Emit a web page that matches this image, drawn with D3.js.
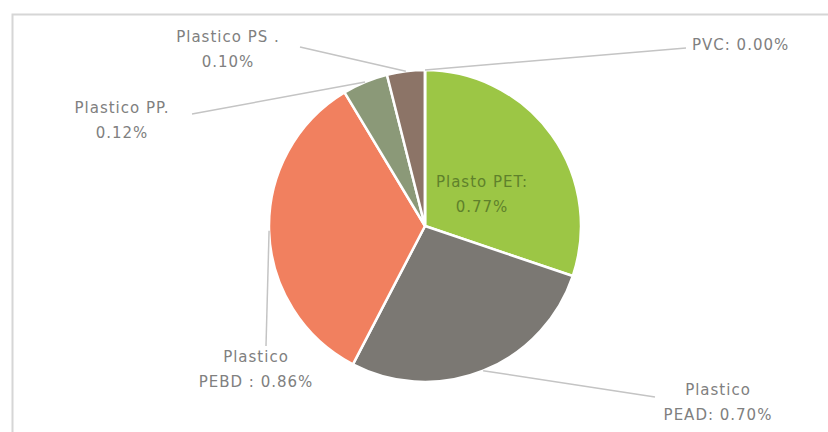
<!DOCTYPE html>
<html>
<head>
<meta charset="utf-8">
<script src="https://cdn.jsdelivr.net/npm/d3@7"></script>
<style>
  html, body { margin: 0; padding: 0; background: #fff; }
  svg { display: block; }
  text { font-family: "DejaVu Sans", sans-serif; }
</style>
</head>
<body>
<svg id="chart" width="828" height="432"></svg>
<script>
// Plastic fractions of the waste stream (%)
const categories = ["Plasto PET", "Plastico PEAD", "Plastico PEBD", "Plastico PP", "Plastico PS", "PVC"];
const values = [0.77, 0.70, 0.86, 0.12, 0.10, 0.00];
const labelLines = [
  ["Plasto PET:", "0.77%"],
  ["Plastico", "PEAD: 0.70%"],
  ["Plastico", "PEBD : 0.86%"],
  ["Plastico PP.", "0.12%"],
  ["Plastico PS .", "0.10%"],
  ["PVC: 0.00%"]
];
const colors = ["#9cc645", "#7b7873", "#f1805f", "#8b9978", "#8c7467", "#4a6fa5"];

// Layout
const W = 828, H = 432;
const cx = 425, cy = 226, R = 156;

// Label placement: text anchor point, leader end point
const labelLayout = [
  { x: 482, y: 187, anchor: "middle", inside: true },
  { x: 718, y: 395, anchor: "middle", lx: 655, ly: 397 },
  { x: 256, y: 362, anchor: "middle", lx: 266, ly: 346 },
  { x: 122, y: 113, anchor: "middle", lx: 192, ly: 114 },
  { x: 228, y: 42, anchor: "middle", lx: 300, ly: 47 },
  { x: 692, y: 50, anchor: "start", lx: 686, ly: 48 }
];

const svg = d3.select("#chart");

// Frame
svg.append("rect")
  .attr("x", 12.5).attr("y", 14.5)
  .attr("width", W).attr("height", H)
  .attr("fill", "none")
  .attr("stroke", "#d6d6d6")
  .attr("stroke-width", 2);

const pie = d3.pie().sort(null).value(d => d)
  .startAngle(0).endAngle(2 * Math.PI);
const arcs = pie(values);
const arc = d3.arc().innerRadius(0).outerRadius(R);

const g = svg.append("g").attr("transform", `translate(${cx},${cy})`);

g.selectAll("path.slice")
  .data(arcs)
  .join("path")
  .attr("class", "slice")
  .attr("d", arc)
  .attr("fill", (d, i) => colors[i])
  .attr("stroke", "#ffffff")
  .attr("stroke-width", 2.5)
  .attr("stroke-linejoin", "round");

// Leader lines from the slice edge out to each outside label
arcs.forEach((d, i) => {
  const L = labelLayout[i];
  if (L.inside) return;
  const mid = (d.startAngle + d.endAngle) / 2;
  const sx = cx + Math.sin(mid) * R;
  const sy = cy - Math.cos(mid) * R;
  svg.append("line")
    .attr("x1", sx).attr("y1", sy)
    .attr("x2", L.lx).attr("y2", L.ly)
    .attr("stroke", "#c4c4c4")
    .attr("stroke-width", 1.5);
});

// Labels
arcs.forEach((d, i) => {
  const L = labelLayout[i];
  const t = svg.append("text")
    .attr("x", L.x).attr("y", L.y)
    .attr("text-anchor", L.anchor)
    .attr("font-size", 15)
    .attr("letter-spacing", 1)
    .attr("fill", L.inside ? "#5f812b" : "#808080");
  labelLines[i].forEach((s, k) => {
    t.append("tspan")
      .attr("x", L.x)
      .attr("dy", k === 0 ? 0 : 25)
      .text(s);
  });
});
</script>
</body>
</html>
